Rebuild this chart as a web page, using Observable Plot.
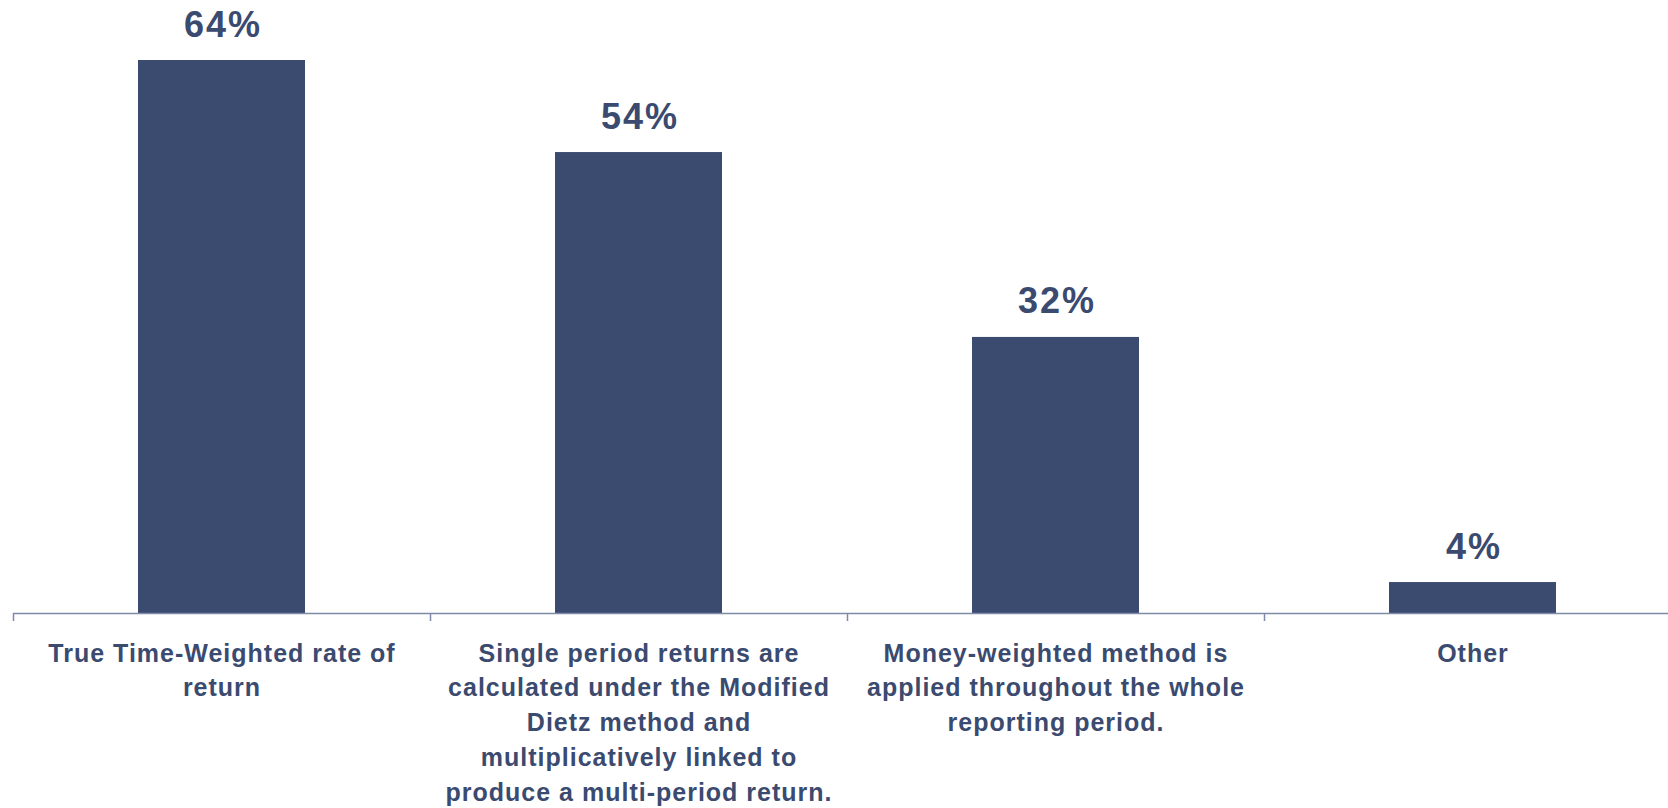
<!DOCTYPE html>
<html>
<head>
<meta charset="utf-8">
<script src="https://cdn.jsdelivr.net/npm/d3@7"></script>
<script src="https://cdn.jsdelivr.net/npm/@observablehq/plot@0.6"></script>
<style>
  html, body { margin: 0; padding: 0; background: #ffffff; overflow: hidden; }
  #chart svg { display: block; }
</style>
</head>
<body>
<div id="chart"></div>
<script>
// ---- data ----
const categories = [
  "True Time-Weighted rate of return",
  "Single period returns are calculated under the Modified Dietz method and multiplicatively linked to produce a multi-period return.",
  "Money-weighted method is applied throughout the whole reporting period.",
  "Other"
];
const tickLabels = [
  "True Time-Weighted rate of\nreturn",
  "Single period returns are\ncalculated under the Modified\nDietz method and\nmultiplicatively linked to\nproduce a multi-period return.",
  "Money-weighted method is\napplied throughout the whole\nreporting period.",
  "Other"
];
const values = [64.3, 53.6, 32.1, 3.6];
const valueLabels = ["64%", "54%", "32%", "4%"];

// ---- styles ----
const barColor = "#3b4a6f";
const textColor = "#3b4a6f";
const axisColor = "#7f8aa8";

const data = categories.map((c, i) => ({category: c, value: values[i], label: valueLabels[i]}));
const tickMap = new Map(categories.map((c, i) => [c, tickLabels[i]]));

const W = 1668, H = 808, ML = 13, MR = -13, MT = 11, MB = 195;
const step = (W - ML - MR) / categories.length;

const chart = Plot.plot({
  width: W,
  height: H,
  marginLeft: ML,
  marginRight: MR,
  marginTop: MT,
  marginBottom: MB,
  style: {fontFamily: "'Liberation Sans', Arial, sans-serif", color: textColor, background: "#ffffff"},
  x: {domain: categories, paddingInner: 0.6, paddingOuter: 0.3, label: null},
  y: {domain: [0, 70], axis: null},
  marks: [
    Plot.barY(data, {x: "category", y: "value", fill: barColor}),
    Plot.ruleY([0], {stroke: axisColor, strokeWidth: 1.5}),
    Plot.axisX({tickSize: 8, tickFormat: () => "", dx: -step / 2, stroke: axisColor, strokeWidth: 1.5, label: null}),
    Plot.axisX({tickSize: 0, tickPadding: 23.5, tickFormat: (d) => tickMap.get(d), fontSize: 25, fontWeight: "bold",
                lineHeight: 1.39, fill: textColor, label: null}),
    Plot.text(data, {x: "category", y: "value", text: "label", dy: -24, dx: 1, lineAnchor: "bottom",
                     fontSize: 36, fontWeight: "bold", fill: textColor})
  ]
});
document.getElementById("chart").appendChild(chart);
d3.select(chart).selectAll("text").each(function () {
  const t = this.textContent || "";
  this.style.letterSpacing = t.includes("%") ? "2px" : "1px";
});
</script>
</body>
</html>
